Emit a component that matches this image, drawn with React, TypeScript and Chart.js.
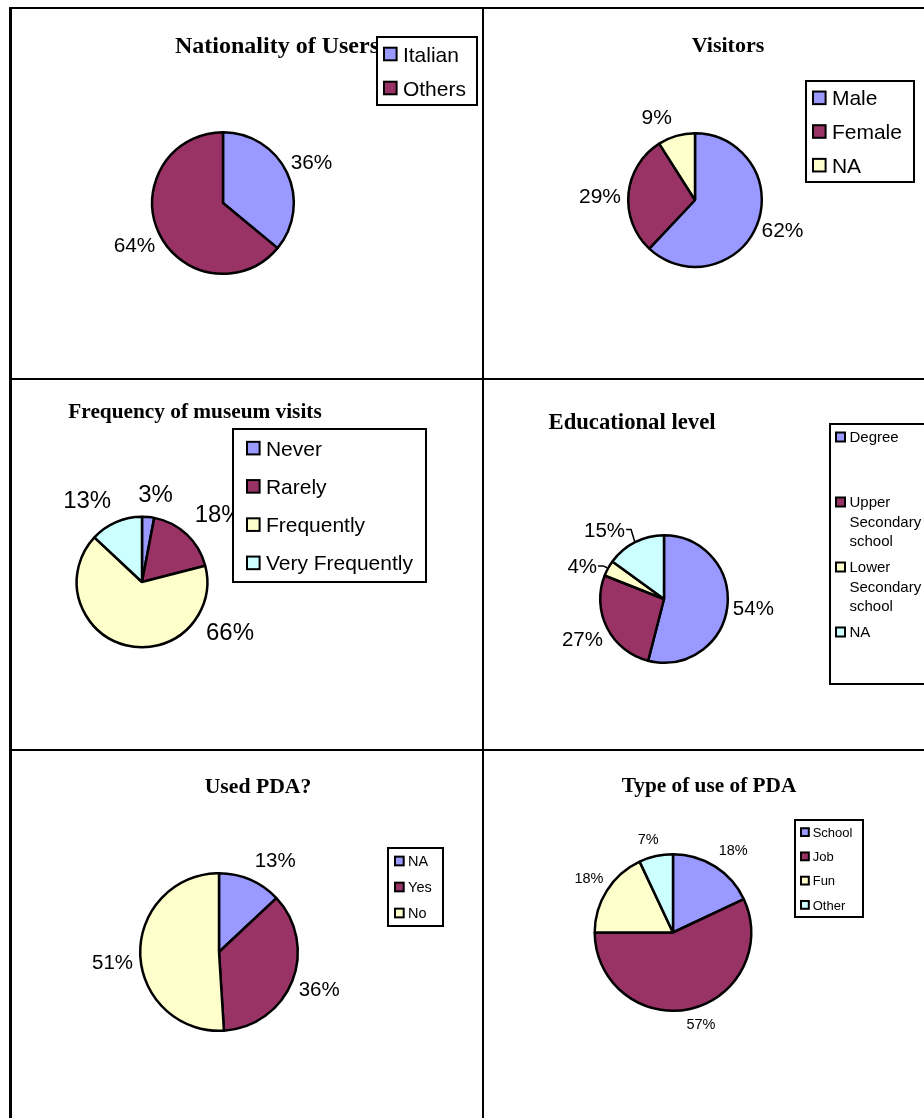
import React, { useEffect, useRef } from 'react';
import { Chart, registerables } from 'chart.js';

Chart.register(...registerables);

const PAGE_W = 924;
const PAGE_H = 1118;
const PALETTE = ['#9999FF', '#993366', '#FFFFCC', '#CCFFFF'];

// ---- data ----
const natTitle = 'Nationality of Users';
const natLabels = ['Italian', 'Others'];
const natValues = [36, 64];

const visTitle = 'Visitors';
const visLabels = ['Male', 'Female', 'NA'];
const visValues = [62, 29, 9];

const freqTitle = 'Frequency of museum visits';
const freqLabels = ['Never', 'Rarely', 'Frequently', 'Very Frequently'];
const freqValues = [3, 18, 66, 13];

const eduTitle = 'Educational level';
const eduLabels = ['Degree', 'Upper Secondary school', 'Lower Secondary school', 'NA'];
const eduValues = [54, 27, 4, 15];

const pdaTitle = 'Used PDA?';
const pdaLabels = ['NA', 'Yes', 'No'];
const pdaValues = [13, 36, 51];

const useTitle = 'Type of use of PDA';
const useLabels = ['School', 'Job', 'Fun', 'Other'];
const useValues = [18, 57, 18, 7];

// ---- layout / styling ----
type Legend = { x: number; y: number; w: number; h: number; font: number; padX: number; wrap?: number };
type Layout = {
  cx: number; cy: number; r: number;
  title: { x: number; y: number; size: number };
  labelFont: number; gap: number;
  nudges: [number, number][];
  leaders?: boolean[];
  legend: Legend;
};
type Spec = { title: string; labels: string[]; values: number[]; layout: Layout };

const specs: Spec[] = [
  {
    title: natTitle, labels: natLabels, values: natValues,
    layout: {
      cx: 223, cy: 203, r: 72, title: { x: 277, y: 53, size: 24 }, labelFont: 20.8, gap: 5,
      nudges: [[0, 0], [0, 0]],
      legend: { x: 377, y: 37, w: 100, h: 68, font: 21, padX: 7 },
    },
  },
  {
    title: visTitle, labels: visLabels, values: visValues,
    layout: {
      cx: 695, cy: 200, r: 68, title: { x: 728, y: 52, size: 22 }, labelFont: 21, gap: 5,
      nudges: [[0, -5], [-2, 4], [-15, -4]],
      legend: { x: 806, y: 81, w: 108, h: 101, font: 21, padX: 7 },
    },
  },
  {
    title: freqTitle, labels: freqLabels, values: freqValues,
    layout: {
      cx: 142, cy: 582, r: 66.5, title: { x: 195, y: 418, size: 21.3 }, labelFont: 24, gap: 5,
      nudges: [[6, -8], [13, -1], [109, -33], [-20, -2]],
      legend: { x: 233, y: 429, w: 193, h: 153, font: 21, padX: 14 },
    },
  },
  {
    title: eduTitle, labels: eduLabels, values: eduValues,
    layout: {
      cx: 664, cy: 599, r: 65, title: { x: 632, y: 429, size: 22.7 }, labelFont: 20.5, gap: 5,
      nudges: [[0, -3], [-1, -1], [-7, 8], [-21, 6]],
      leaders: [false, false, true, true],
      legend: { x: 830, y: 424, w: 110, h: 260, font: 15, padX: 6, wrap: 80 },
    },
  },
  {
    title: pdaTitle, labels: pdaLabels, values: pdaValues,
    layout: {
      cx: 219, cy: 952, r: 80, title: { x: 258, y: 793, size: 21.7 }, labelFont: 20.5, gap: 5,
      nudges: [[17, -2], [2, -2], [-2, 6]],
      legend: { x: 388, y: 848, w: 55, h: 78, font: 14.5, padX: 7 },
    },
  },
  {
    title: useTitle, labels: useLabels, values: useValues,
    layout: {
      cx: 673, cy: 932.5, r: 79.5, title: { x: 709, y: 792, size: 21.3 }, labelFont: 14.5, gap: 5,
      nudges: [[9, -2], [8, 2], [-1, -2], [-5, -5]],
      legend: { x: 795, y: 820, w: 68, h: 97, font: 13, padX: 6 },
    },
  },
];

const SANS = '"Liberation Sans", Arial, sans-serif';
const SERIF = '"Liberation Serif", "Times New Roman", serif';

function wrapText(ctx: CanvasRenderingContext2D, text: string, maxW?: number): string[] {
  if (!maxW) return [text];
  const words = text.split(' ');
  const lines: string[] = [];
  let cur = '';
  for (const w of words) {
    const t = cur ? cur + ' ' + w : w;
    if (cur && ctx.measureText(t).width > maxW) {
      lines.push(cur);
      cur = w;
    } else cur = t;
  }
  if (cur) lines.push(cur);
  return lines;
}

function makeDecor(spec: Spec) {
  return {
    id: 'decor',
    afterDraw(chart: any) {
      const ctx: CanvasRenderingContext2D = chart.ctx;
      const L = spec.layout;
      ctx.save();
      // title
      ctx.fillStyle = '#000';
      ctx.font = `bold ${L.title.size}px ${SERIF}`;
      ctx.textAlign = 'center';
      ctx.textBaseline = 'alphabetic';
      ctx.fillText(spec.title, L.title.x, L.title.y);

      // percentage labels
      const meta = chart.getDatasetMeta(0);
      const f = L.labelFont;
      ctx.font = `${f}px ${SANS}`;
      meta.data.forEach((arc: any, i: number) => {
        const p = arc.getProps(['x', 'y', 'startAngle', 'endAngle', 'outerRadius'], true);
        const mid = (p.startAngle + p.endAngle) / 2;
        const dx = Math.cos(mid);
        const dy = Math.sin(mid);
        const text = spec.values[i] + '%';
        const w = ctx.measureText(text).width;
        const h = f * 0.72;
        const half = (Math.abs(dx) * w) / 2 + (Math.abs(dy) * h) / 2;
        const d = p.outerRadius + L.gap + half;
        const n = L.nudges[i] || [0, 0];
        const tx = p.x + dx * d + n[0];
        const ty = p.y + dy * d + n[1];
        ctx.fillStyle = '#000';
        ctx.textAlign = 'center';
        ctx.textBaseline = 'alphabetic';
        ctx.fillText(text, tx, ty + f * 0.36);
        if (L.leaders && L.leaders[i]) {
          const sx = tx + w / 2 + 1;
          ctx.beginPath();
          ctx.moveTo(sx, ty);
          ctx.lineTo(sx + 5, ty);
          ctx.lineTo(p.x + dx * (p.outerRadius + 1), p.y + dy * (p.outerRadius + 1));
          ctx.strokeStyle = '#000';
          ctx.lineWidth = 1.5;
          ctx.stroke();
        }
      });

      // legend
      const G = spec.layout.legend;
      ctx.fillStyle = '#fff';
      ctx.fillRect(G.x, G.y, G.w, G.h);
      ctx.strokeStyle = '#000';
      ctx.lineWidth = 2;
      ctx.strokeRect(G.x, G.y, G.w, G.h);
      ctx.font = `${G.font}px ${SANS}`;
      const lineH = G.font * 1.3;
      const wrapped = spec.labels.map((lb) => wrapText(ctx, lb, G.wrap));
      const maxLines = Math.max(...wrapped.map((l) => l.length));
      const slotH = G.h / spec.labels.length;
      const s = G.font * 0.6;
      wrapped.forEach((lines, i) => {
        const slotTop = G.y + i * slotH;
        const firstY = slotTop + (slotH - maxLines * lineH) / 2 + lineH / 2;
        const sx = G.x + G.padX;
        ctx.fillStyle = PALETTE[i % PALETTE.length];
        ctx.fillRect(sx, firstY - s / 2, s, s);
        ctx.lineWidth = 2;
        ctx.strokeStyle = '#000';
        ctx.strokeRect(sx, firstY - s / 2, s, s);
        ctx.fillStyle = '#000';
        ctx.textAlign = 'left';
        ctx.textBaseline = 'alphabetic';
        lines.forEach((ln, k) => {
          ctx.fillText(ln, sx + s + G.font * 0.3, firstY + k * lineH + G.font * 0.36);
        });
      });
      ctx.restore();
    },
  };
}

function PieCanvas({ spec }: { spec: Spec }) {
  const ref = useRef<HTMLCanvasElement | null>(null);
  useEffect(() => {
    if (!ref.current) return;
    const L = spec.layout;
    const sz = L.r + 4;
    const chart = new Chart(ref.current, {
      type: 'pie',
      data: {
        labels: spec.labels,
        datasets: [
          {
            data: spec.values,
            backgroundColor: PALETTE.slice(0, spec.values.length),
            borderColor: '#000',
            borderWidth: 2.5,
          },
        ],
      },
      options: {
        responsive: false,
        animation: false,
        devicePixelRatio: 1,
        events: [],
        radius: L.r - 1.2,
        layout: {
          padding: {
            left: L.cx - sz,
            right: PAGE_W - L.cx - sz,
            top: L.cy - sz,
            bottom: PAGE_H - L.cy - sz,
          },
        },
        plugins: {
          legend: { display: false },
          tooltip: { enabled: false },
          title: { display: false },
        },
      } as any,
      plugins: [makeDecor(spec)],
    });
    return () => chart.destroy();
  }, [spec]);
  return (
    <canvas
      ref={ref}
      width={PAGE_W}
      height={PAGE_H}
      style={{ position: 'absolute', left: 0, top: 0, width: PAGE_W, height: PAGE_H }}
    />
  );
}

const line = (left: number, top: number, width: number, height: number): React.CSSProperties => ({
  position: 'absolute', left, top, width, height, background: '#000',
});

export default function App() {
  return (
    <div style={{ position: 'absolute', left: 0, top: 0, width: PAGE_W, height: PAGE_H, background: '#fff', overflow: 'hidden' }}>
      <div style={line(9, 7, PAGE_W - 9, 2)} />
      <div style={line(9, 378, PAGE_W - 9, 2)} />
      <div style={line(9, 749, PAGE_W - 9, 2)} />
      <div style={line(9, 7, 3, PAGE_H - 7)} />
      <div style={line(482, 7, 2, PAGE_H - 7)} />
      {specs.map((s, i) => (
        <PieCanvas key={i} spec={s} />
      ))}
    </div>
  );
}
